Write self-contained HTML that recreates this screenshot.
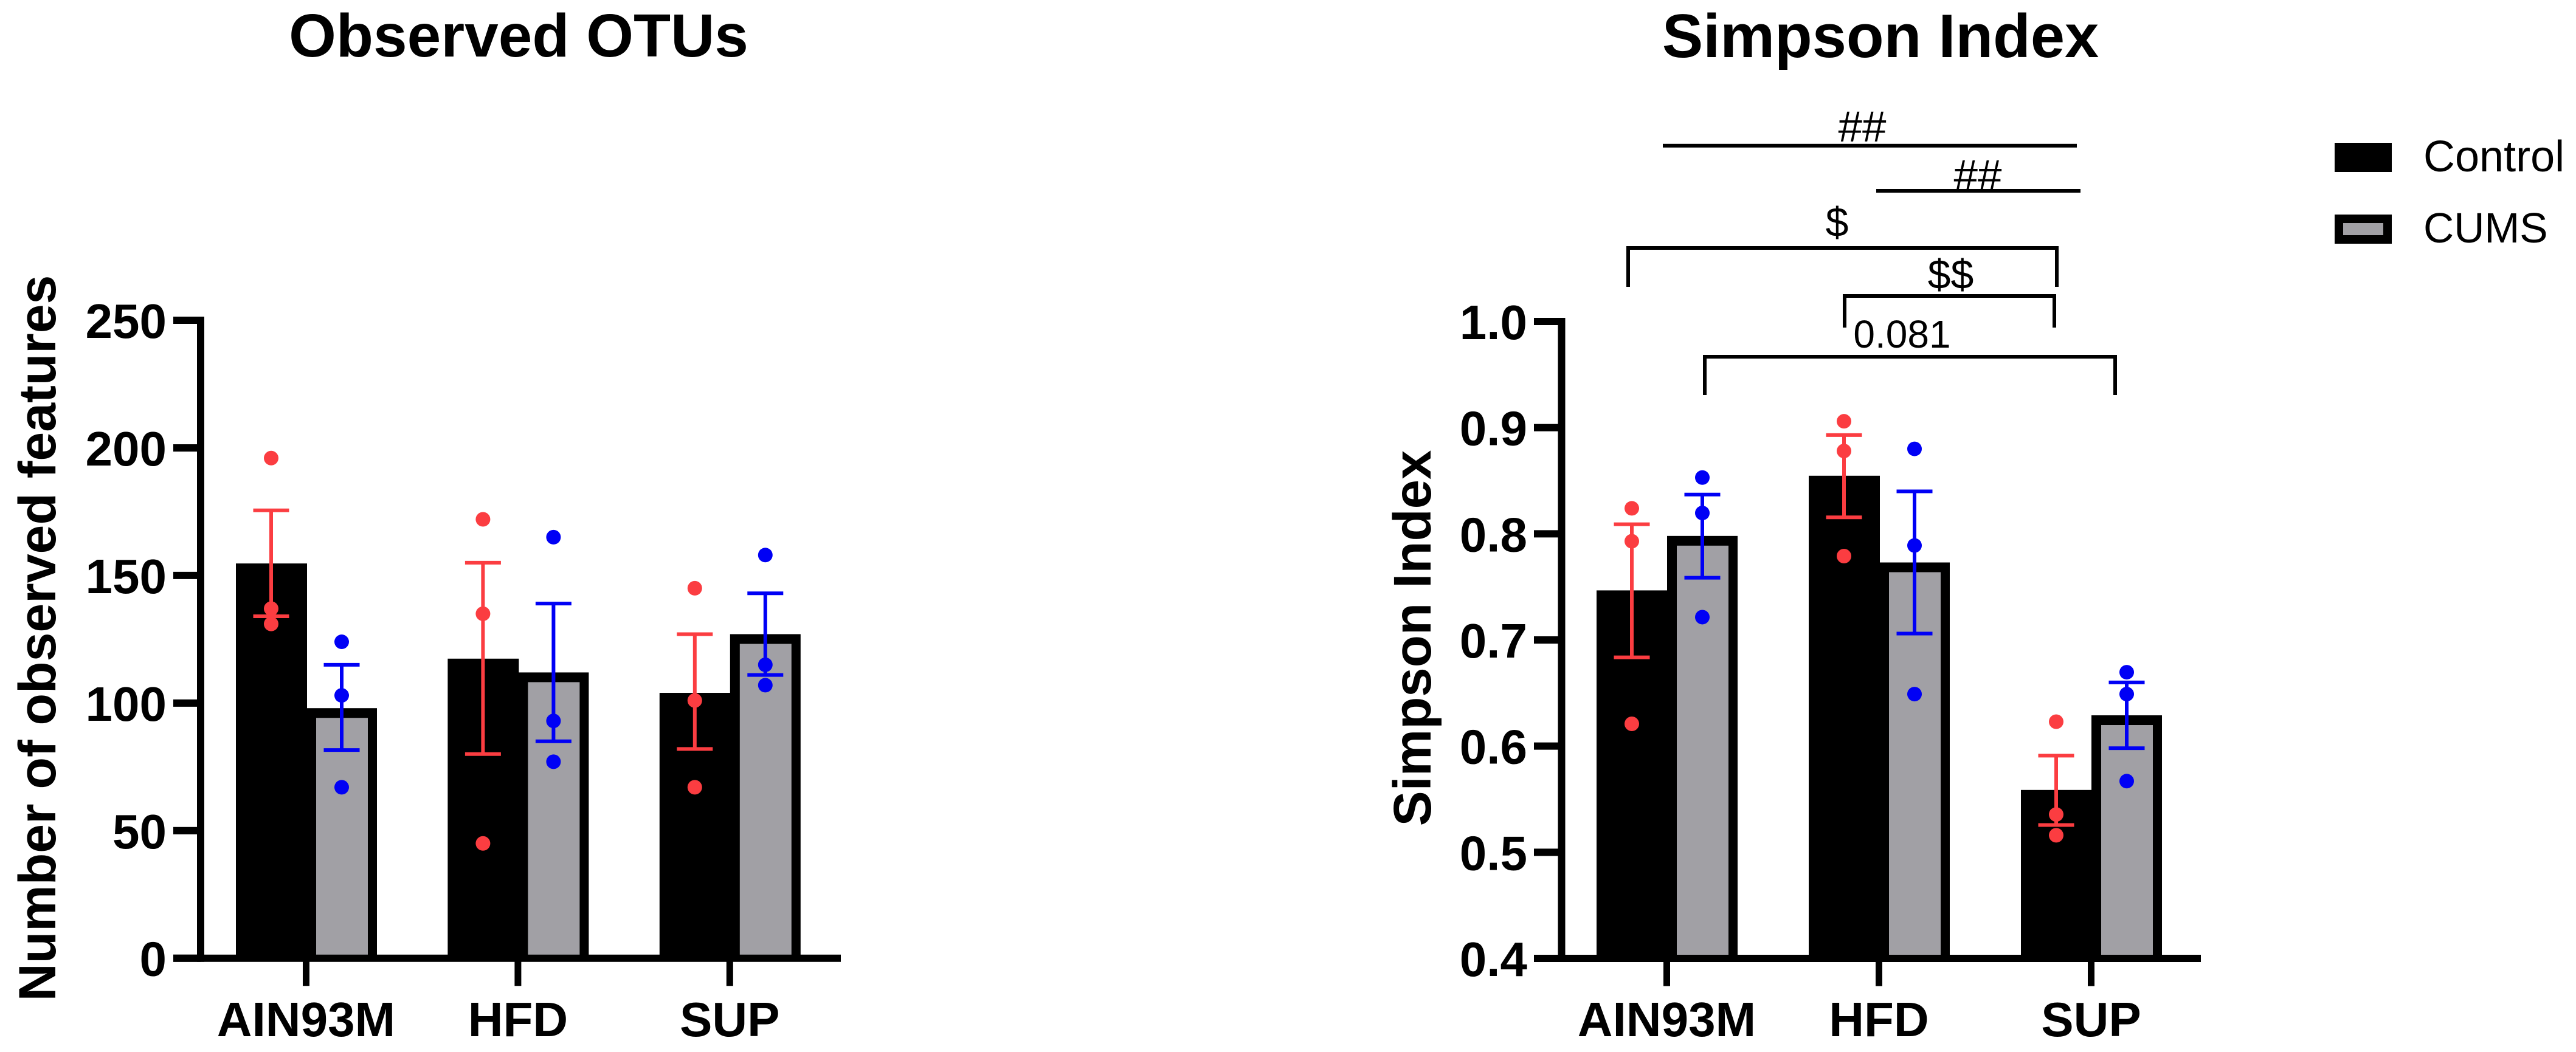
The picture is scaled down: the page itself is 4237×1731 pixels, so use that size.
<!DOCTYPE html>
<html lang="en">
<head>
<meta charset="utf-8">
<title>Observed OTUs and Simpson Index</title>
<style>
html,body{margin:0;padding:0;background:#fff;}
svg{display:block;}
text{font-family:"Liberation Sans",Arial,sans-serif;fill:#000;}
.b{font-weight:700;}
</style>
</head>
<body>
<svg id="figure" xmlns="http://www.w3.org/2000/svg" width="4237" height="1731" viewBox="0 0 4237 1731">
<rect width="4237" height="1731" fill="#fff"/>
<g id="left"></g>
<g id="right"></g>
<text class="b" x="853" y="93" font-size="100" text-anchor="middle">Observed OTUs</text>
<text class="b" x="3093" y="94" font-size="101" text-anchor="middle">Simpson Index</text>
<text class="b" transform="translate(91 1050) rotate(-90)" font-size="86" text-anchor="middle">Number of observed features</text>
<text class="b" transform="translate(2353 1050) rotate(-90)" font-size="87" text-anchor="middle">Simpson Index</text>

<g fill="none" stroke="#000" stroke-width="6">
<path d="M2735 239.7H3416"/>
<path d="M3086 314H3422"/>
<path d="M2678 472V408H3383V472"/>
<path d="M3034 539V487H3379V539"/>
<path d="M2804 650V587H3479V650"/>
</g>
<g font-size="68" text-anchor="middle">
<text x="3063" y="233" font-size="71">##</text>
<text x="3253" y="313" font-size="71">##</text>
<text x="3021.5" y="389">$</text>
<text x="3208.5" y="475">$$</text>
<text x="3128.5" y="572" font-size="64">0.081</text>
</g>

<g>
<rect x="3840" y="235" width="94" height="48" fill="#000"/>
<text x="3986" y="282" font-size="72">Control</text>
<rect x="3840" y="353" width="94" height="48" fill="#000"/>
<rect x="3854" y="367" width="66" height="20" fill="#a1a0a5"/>
<text x="3986" y="399" font-size="69.5">CUMS</text>
</g>
</svg>
<script>
var categories = ["AIN93M", "HFD", "SUP"];

var otuTicks = [0, 50, 100, 150, 200, 250];
var otuControlMeans = [154.7, 117.4, 104];
var otuCumsMeans = [98, 112, 127];
var otuControlErrHigh = [175.5, 155, 127];
var otuControlErrLow = [134, 80, 82];
var otuCumsErrHigh = [115, 139, 143];
var otuCumsErrLow = [81.6, 85, 111];
var otuControlPoints = [[196, 137, 131], [172, 135, 45], [145, 101, 67]];
var otuCumsPoints = [[124, 103, 67], [165, 93, 77], [158, 115, 107]];

var simpsonTicks = ["0.4", "0.5", "0.6", "0.7", "0.8", "0.9", "1.0"];
var simpsonControlMeans = [0.7467, 0.8547, 0.5587];
var simpsonCumsMeans = [0.798, 0.773, 0.629];
var simpsonControlErrHigh = [0.809, 0.893, 0.591];
var simpsonControlErrLow = [0.6836, 0.8155, 0.5257];
var simpsonCumsErrHigh = [0.837, 0.84, 0.66];
var simpsonCumsErrLow = [0.7586, 0.706, 0.598];
var simpsonControlPoints = [[0.824, 0.793, 0.621], [0.906, 0.878, 0.779], [0.623, 0.5356, 0.516]];
var simpsonCumsPoints = [[0.853, 0.8196, 0.7215], [0.88, 0.789, 0.649], [0.6696, 0.649, 0.567]];

var SVGNS = "http://www.w3.org/2000/svg";

function make(parent, tag, attrs, text) {
  var el = document.createElementNS(SVGNS, tag);
  for (var k in attrs) { el.setAttribute(k, attrs[k]); }
  if (text !== undefined) { el.textContent = text; }
  parent.appendChild(el);
  return el;
}

function drawChart(cfg) {
  var root = cfg.root;
  var yBottom = cfg.yBottom, yTop = cfg.yTop;
  var minV = Number(cfg.ticks[0]), maxV = Number(cfg.ticks[cfg.ticks.length - 1]);
  function yScale(v) { return yBottom - (v - minV) / (maxV - minV) * (yBottom - yTop); }
  function barLeft(g, s) { return cfg.barStart + g * cfg.groupStep + s * cfg.barWidth; }
  function barCenter(g, s) { return barLeft(g, s) + cfg.barWidth / 2; }

  var series = [
    { name: "control", means: cfg.controlMeans, hi: cfg.controlHi, lo: cfg.controlLo, pts: cfg.controlPts, color: "#fb3d41" },
    { name: "cums", means: cfg.cumsMeans, hi: cfg.cumsHi, lo: cfg.cumsLo, pts: cfg.cumsPts, color: "#0000f5" }
  ];

  series.forEach(function (s, si) {
    categories.forEach(function (cat, g) {
      var x = barLeft(g, si), top = yScale(s.means[g]);
      var bar = make(root, "rect", { x: x, y: top, width: cfg.barWidth + (si === 0 ? 1 : 0), height: yBottom - top, fill: "#000" });
      
      
      if (si === 1) {
        var inner = make(root, "rect", { x: x + 16, y: top + 16, width: cfg.barWidth - 31, height: yBottom - top - 16, fill: "#a1a0a5" });
        
        
      }
    });
  });

  series.forEach(function (s, si) {
    categories.forEach(function (cat, g) {
      var cx = barCenter(g, si) + cfg.markOffset;
      var yHi = yScale(s.hi[g]), yLo = yScale(s.lo[g]);
      var stem = make(root, "line", { x1: cx, x2: cx, y1: yHi, y2: yLo, stroke: s.color, "stroke-width": 6 });
      
      
      var capHi = make(root, "line", { x1: cx - 29.5, x2: cx + 29.5, y1: yHi, y2: yHi, stroke: s.color, "stroke-width": 6 });
      
      
      var capLo = make(root, "line", { x1: cx - 29.5, x2: cx + 29.5, y1: yLo, y2: yLo, stroke: s.color, "stroke-width": 6 });
      
      
      s.pts[g].forEach(function (v, pi) {
        var dot = make(root, "circle", { cx: cx, cy: yScale(v), r: 12, fill: s.color });
        
        
      });
    });
  });

  var yAxis = make(root, "line", { x1: cfg.axisX, x2: cfg.axisX, y1: yTop - 6, y2: yBottom + 6, stroke: "#000", "stroke-width": 12 });
  
  
  var xAxis = make(root, "line", { x1: cfg.axisLeft, x2: cfg.axisRight, y1: yBottom, y2: yBottom, stroke: "#000", "stroke-width": 12 });
  
  

  cfg.ticks.forEach(function (t) {
    var y = yScale(Number(t));
    var tick = make(root, "line", { x1: cfg.axisLeft, x2: cfg.axisX, y1: y, y2: y, stroke: "#000", "stroke-width": 12 });
    
    
    var label = make(root, "text", { x: cfg.axisLeft - 11, y: y + 29, "font-size": 80, "font-weight": 700, "text-anchor": "end" }, String(t));
    
    
  });

  categories.forEach(function (cat, g) {
    var cx = barLeft(g, 1) - 0.5;
    var tick = make(root, "line", { x1: cx, x2: cx, y1: yBottom, y2: yBottom + 45.5, stroke: "#000", "stroke-width": 11 });
    
    
    var label = make(root, "text", { x: cx, y: 1705, "font-size": 80, "font-weight": 700, "text-anchor": "middle" }, cat);
    
    
  });
}

drawChart({
  root: document.getElementById("left"),
  ticks: otuTicks, yBottom: 1576.7, yTop: 527,
  axisX: 330, axisLeft: 285, axisRight: 1383,
  barStart: 388, groupStep: 348.4, barWidth: 116, markOffset: 0,
  controlMeans: otuControlMeans, cumsMeans: otuCumsMeans,
  controlHi: otuControlErrHigh, controlLo: otuControlErrLow,
  cumsHi: otuCumsErrHigh, cumsLo: otuCumsErrLow,
  controlPts: otuControlPoints, cumsPts: otuCumsPoints
});

drawChart({
  root: document.getElementById("right"),
  ticks: simpsonTicks, yBottom: 1577, yTop: 529,
  axisX: 2568.5, axisLeft: 2523, axisRight: 3620,
  barStart: 2626, groupStep: 349, barWidth: 116, markOffset: 0,
  controlMeans: simpsonControlMeans, cumsMeans: simpsonCumsMeans,
  controlHi: simpsonControlErrHigh, controlLo: simpsonControlErrLow,
  cumsHi: simpsonCumsErrHigh, cumsLo: simpsonCumsErrLow,
  controlPts: simpsonControlPoints, cumsPts: simpsonCumsPoints
});
</script>
</body>
</html>
